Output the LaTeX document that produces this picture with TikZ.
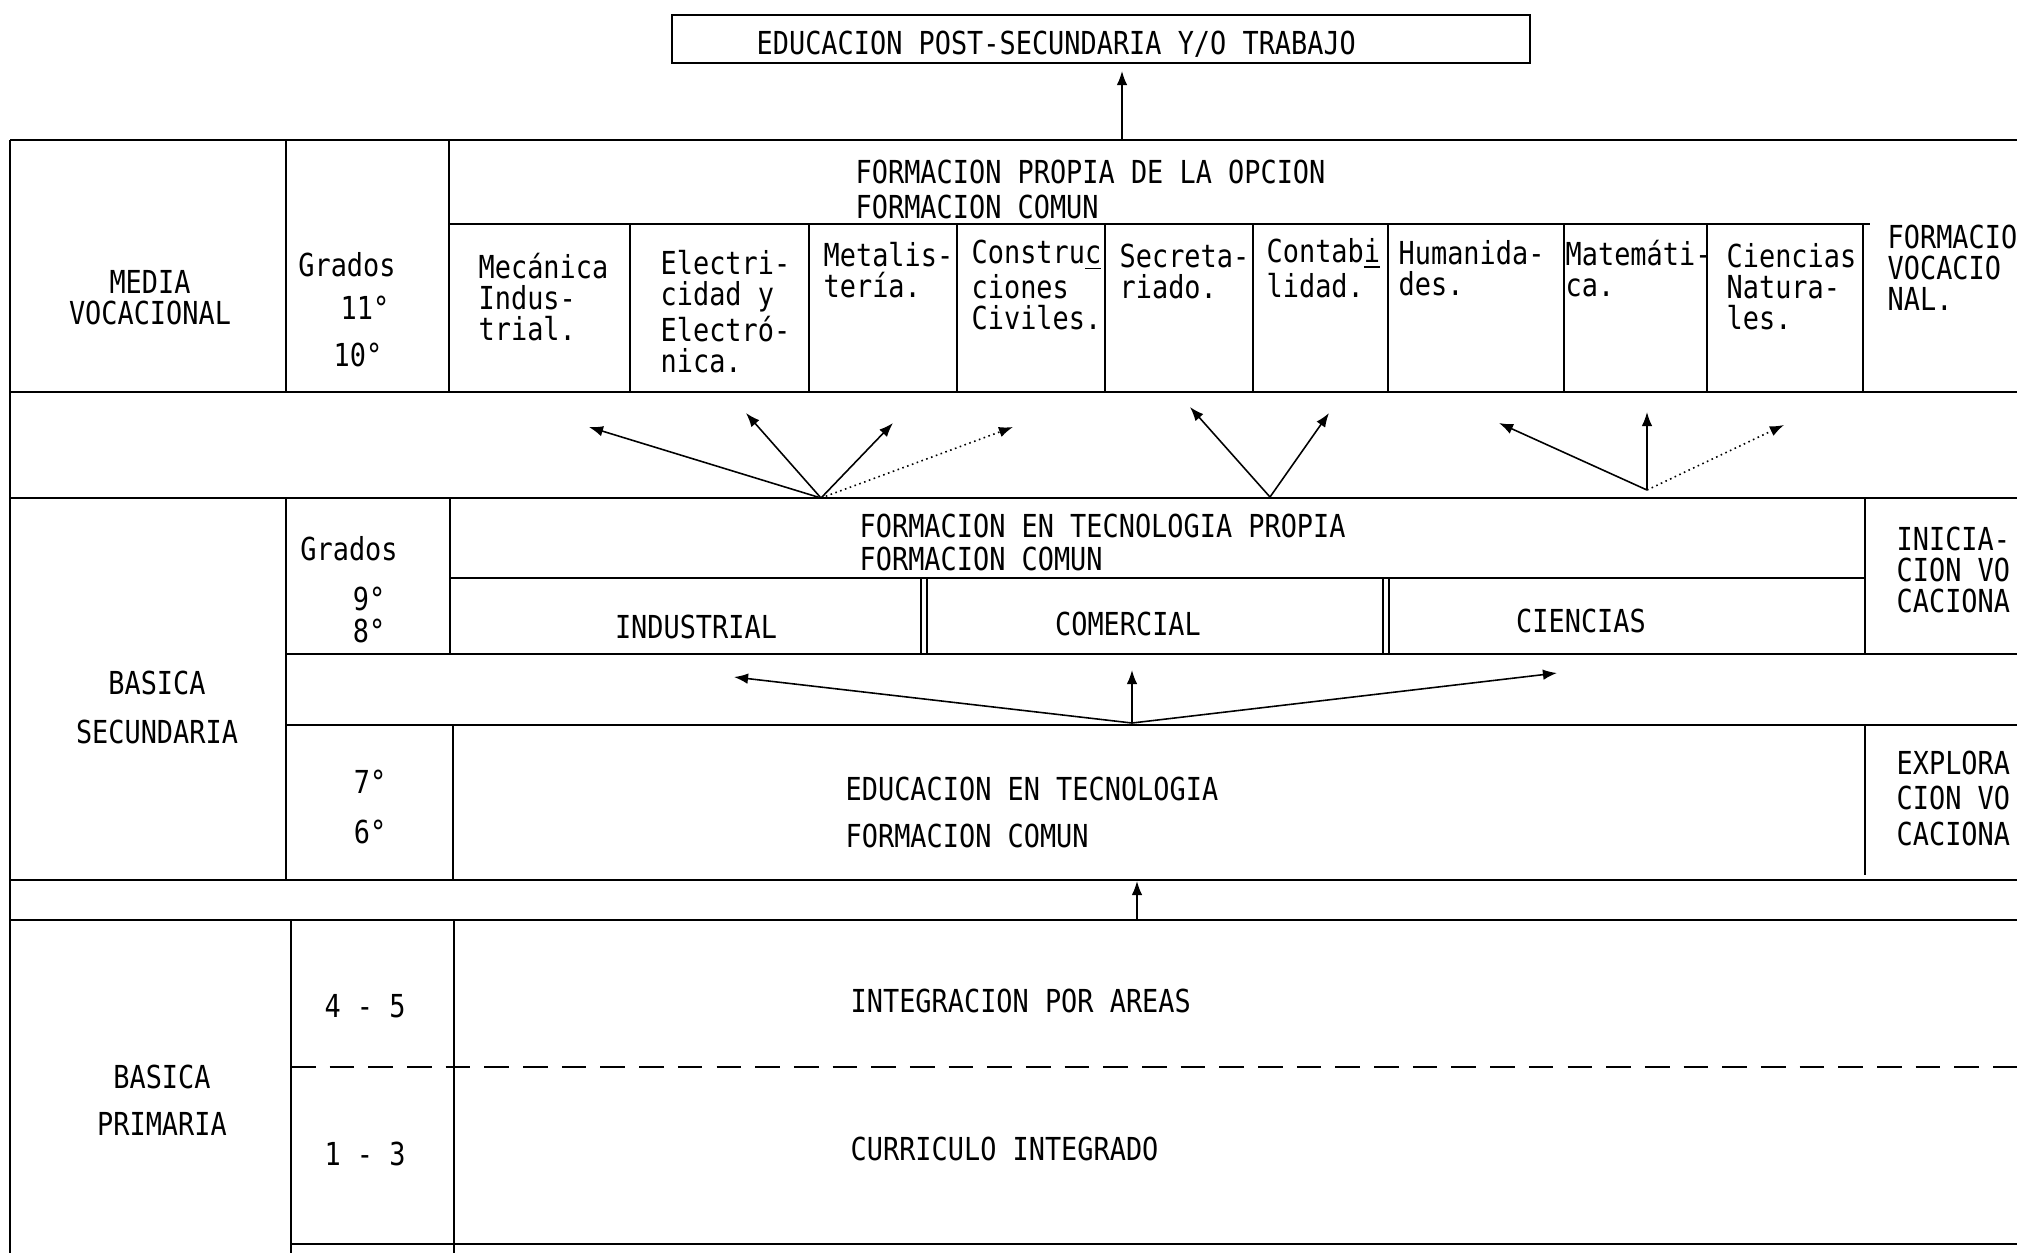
\documentclass[tikz,border=0pt]{standalone}
\usepackage{fontspec}
\setmainfont[FakeStretch=0.85]{DejaVu Sans Mono}
\usetikzlibrary{arrows.meta}

\tikzset{
  texte/.style={font=\fontsize{9}{8.8}\selectfont, inner sep=0pt},
  bloc/.style={texte, align=left, anchor=base west},
  centre/.style={texte, align=center, anchor=base},
  trait/.style={line width=0.8pt},
  filet/.style={line width=0.6pt},
  fleche/.style={-{Latex[length=4pt,width=3pt]}, line width=0.45pt},
}

\begin{document}
\begin{tikzpicture}[x=0.01cm,y=-0.01cm]
    \useasboundingbox (0,0) rectangle (2017,1253);
    \clip (0,0) rectangle (2017,1253);

    % Boite du haut
    \node[draw, filet, minimum width=8.57cm, minimum height=0.48cm, anchor=north west] (postBox) at (671,14) {};
    \node[texte, anchor=base west] (post) at (756,54) {EDUCACION POST-SECUNDARIA Y/O TRABAJO};

    % Traits horizontaux
    \draw[trait] (10,140) -- (2017,140);
    \draw[trait] (449,224) -- (1870,224);
    \draw[trait] (10,392) -- (2017,392);
    \draw[trait] (10,498) -- (2017,498);
    \draw[trait] (450,578) -- (1865,578);
    \draw[trait] (286,654) -- (2017,654);
    \draw[trait] (286,725) -- (2017,725);
    \draw[trait] (10,880) -- (2017,880);
    \draw[trait] (10,920) -- (2017,920);
    \draw[trait, dash pattern=on 7pt off 4pt] (291,1067) -- (2017,1067);
    \draw[trait] (291,1244) -- (2017,1244);

    % Traits verticaux
    \draw[filet] (10,140) -- (10,1253);
    \draw[filet] (286,140) -- (286,392);
    \draw[filet] (449,140) -- (449,392);
    \foreach \x in {630,809,957,1105,1253,1388,1564,1707,1863}{
        \draw[filet] (\x,224) -- (\x,392);
    }
    \draw[filet] (286,498) -- (286,880);
    \draw[filet] (450,498) -- (450,654);
    \draw[filet] (453,725) -- (453,880);
    \draw[filet] (1865,498) -- (1865,654);
    \draw[filet] (1865,725) -- (1865,875);
    \foreach \x in {921,927,1383,1389}{
        \draw[line width=0.5pt] (\x,578) -- (\x,654);
    }
    \draw[filet] (291,920) -- (291,1253);
    \draw[filet] (454,920) -- (454,1253);

    % MEDIA VOCACIONAL (base = derniere ligne)
    \node[centre] (mediaVoc) at (150,324) {MEDIA\\VOCACIONAL};
    \node[centre] (gradosMV) at (347,276) {Grados};
    \node[centre] (g11) at (365,319) {11°};
    \node[centre] (g10) at (358,366) {10°};
    \node[bloc] (propiaOpcion) at (855,183) {FORMACION PROPIA DE LA OPCION};
    \node[bloc] (comunMV) at (855,218) {FORMACION COMUN};
    \node[bloc] (mecanica) at (478,340) {Mecánica\\Indus-\\trial.};
    \node[bloc] (electricidad) at (660,372) {Electri-\\cidad y\\Electró-\\nica.};
    \node[bloc] (metalisteria) at (823,297) {Metalis-\\tería.};
    \node[bloc] (construcciones) at (971,329) {Constru\underline{c}\\ciones\\Civiles.};
    \node[bloc] (secretariado) at (1119,298) {Secreta-\\riado.};
    \node[bloc] (contabilidad) at (1266,297) {Contab\underline{i}\\lidad.};
    \node[bloc] (humanidades) at (1398,295) {Humanida-\\des.};
    \node[bloc] (matematica) at (1565,296) {Matemáti-\\ca.};
    \node[bloc] (cienciasMV) at (1726,329) {Ciencias\\Natura-\\les.};
    \node[bloc] (formVoc) at (1887,310) {FORMACIO\\VOCACIO\\NAL.};

    % BASICA SECUNDARIA
    \node[centre] (basicaSec) at (157,743) {BASICA\\[5pt]SECUNDARIA};
    \node[centre] (gradosBS) at (349,560) {Grados};
    \node[centre] (g9) at (369,610) {9°};
    \node[centre] (g8) at (369,642) {8°};
    \node[bloc] (tecPropia) at (859,537) {FORMACION EN TECNOLOGIA PROPIA};
    \node[bloc] (comunBS) at (859,570) {FORMACION COMUN};
    \node[centre] (industrial) at (696,638) {INDUSTRIAL};
    \node[centre] (comercial) at (1128,635) {COMERCIAL};
    \node[centre] (cienciasBS) at (1581,632) {CIENCIAS};
    \node[bloc] (iniciacion) at (1896,612) {INICIA-\\CION VO\\CACIONA};
    \node[centre] (g7) at (370,793) {7°};
    \node[centre] (g6) at (370,843) {6°};
    \node[bloc] (eduTec) at (845,800) {EDUCACION EN TECNOLOGIA};
    \node[bloc] (comunEx) at (845,847) {FORMACION COMUN};
    \node[bloc, font=\fontsize{9}{10}\selectfont] (exploracion) at (1896,845) {EXPLORA\\CION VO\\CACIONA};

    % BASICA PRIMARIA
    \node[centre] (basicaPri) at (162,1135) {BASICA\\[4.5pt]PRIMARIA};
    \node[centre] (g45) at (365,1017) {4 - 5};
    \node[centre] (g13) at (365,1165) {1 - 3};
    \node[bloc] (integracion) at (850,1012) {INTEGRACION POR AREAS};
    \node[bloc] (curriculo) at (850,1160) {CURRICULO INTEGRADO};

    % Points des fleches
    \coordinate (mvTop) at (1122,140);
    \coordinate (postTip) at (1122,71);
    \coordinate (o1) at (821,498);
    \coordinate (o2) at (1270,497);
    \coordinate (o3) at (1647,490);
    \coordinate (o4) at (1132,723);
    \coordinate (o5) at (1137,920);
    \coordinate (t5) at (1137,881);
    \coordinate (a1) at (589,427);
    \coordinate (a2) at (746,413);
    \coordinate (a3) at (893,423);
    \coordinate (a4) at (1013,427);
    \coordinate (b1) at (1190,407);
    \coordinate (b2) at (1329,413);
    \coordinate (c1) at (1499,423);
    \coordinate (c2) at (1647,412);
    \coordinate (c3) at (1784,425);
    \coordinate (d1) at (734,677);
    \coordinate (d2) at (1132,670);
    \coordinate (d3) at (1557,673);

    % Fleches
    \draw[fleche] (mvTop) -- (postTip);
    \foreach \t in {a1,a2,a3}{ \draw[fleche] (o1) -- (\t); }
    \draw[fleche, densely dotted] (o1) -- (a4);
    \foreach \t in {b1,b2}{ \draw[fleche] (o2) -- (\t); }
    \foreach \t in {c1,c2}{ \draw[fleche] (o3) -- (\t); }
    \draw[fleche, densely dotted] (o3) -- (c3);
    \foreach \t in {d1,d2,d3}{ \draw[fleche] (o4) -- (\t); }
    \draw[fleche] (o5) -- (t5);
\end{tikzpicture}
\end{document}
